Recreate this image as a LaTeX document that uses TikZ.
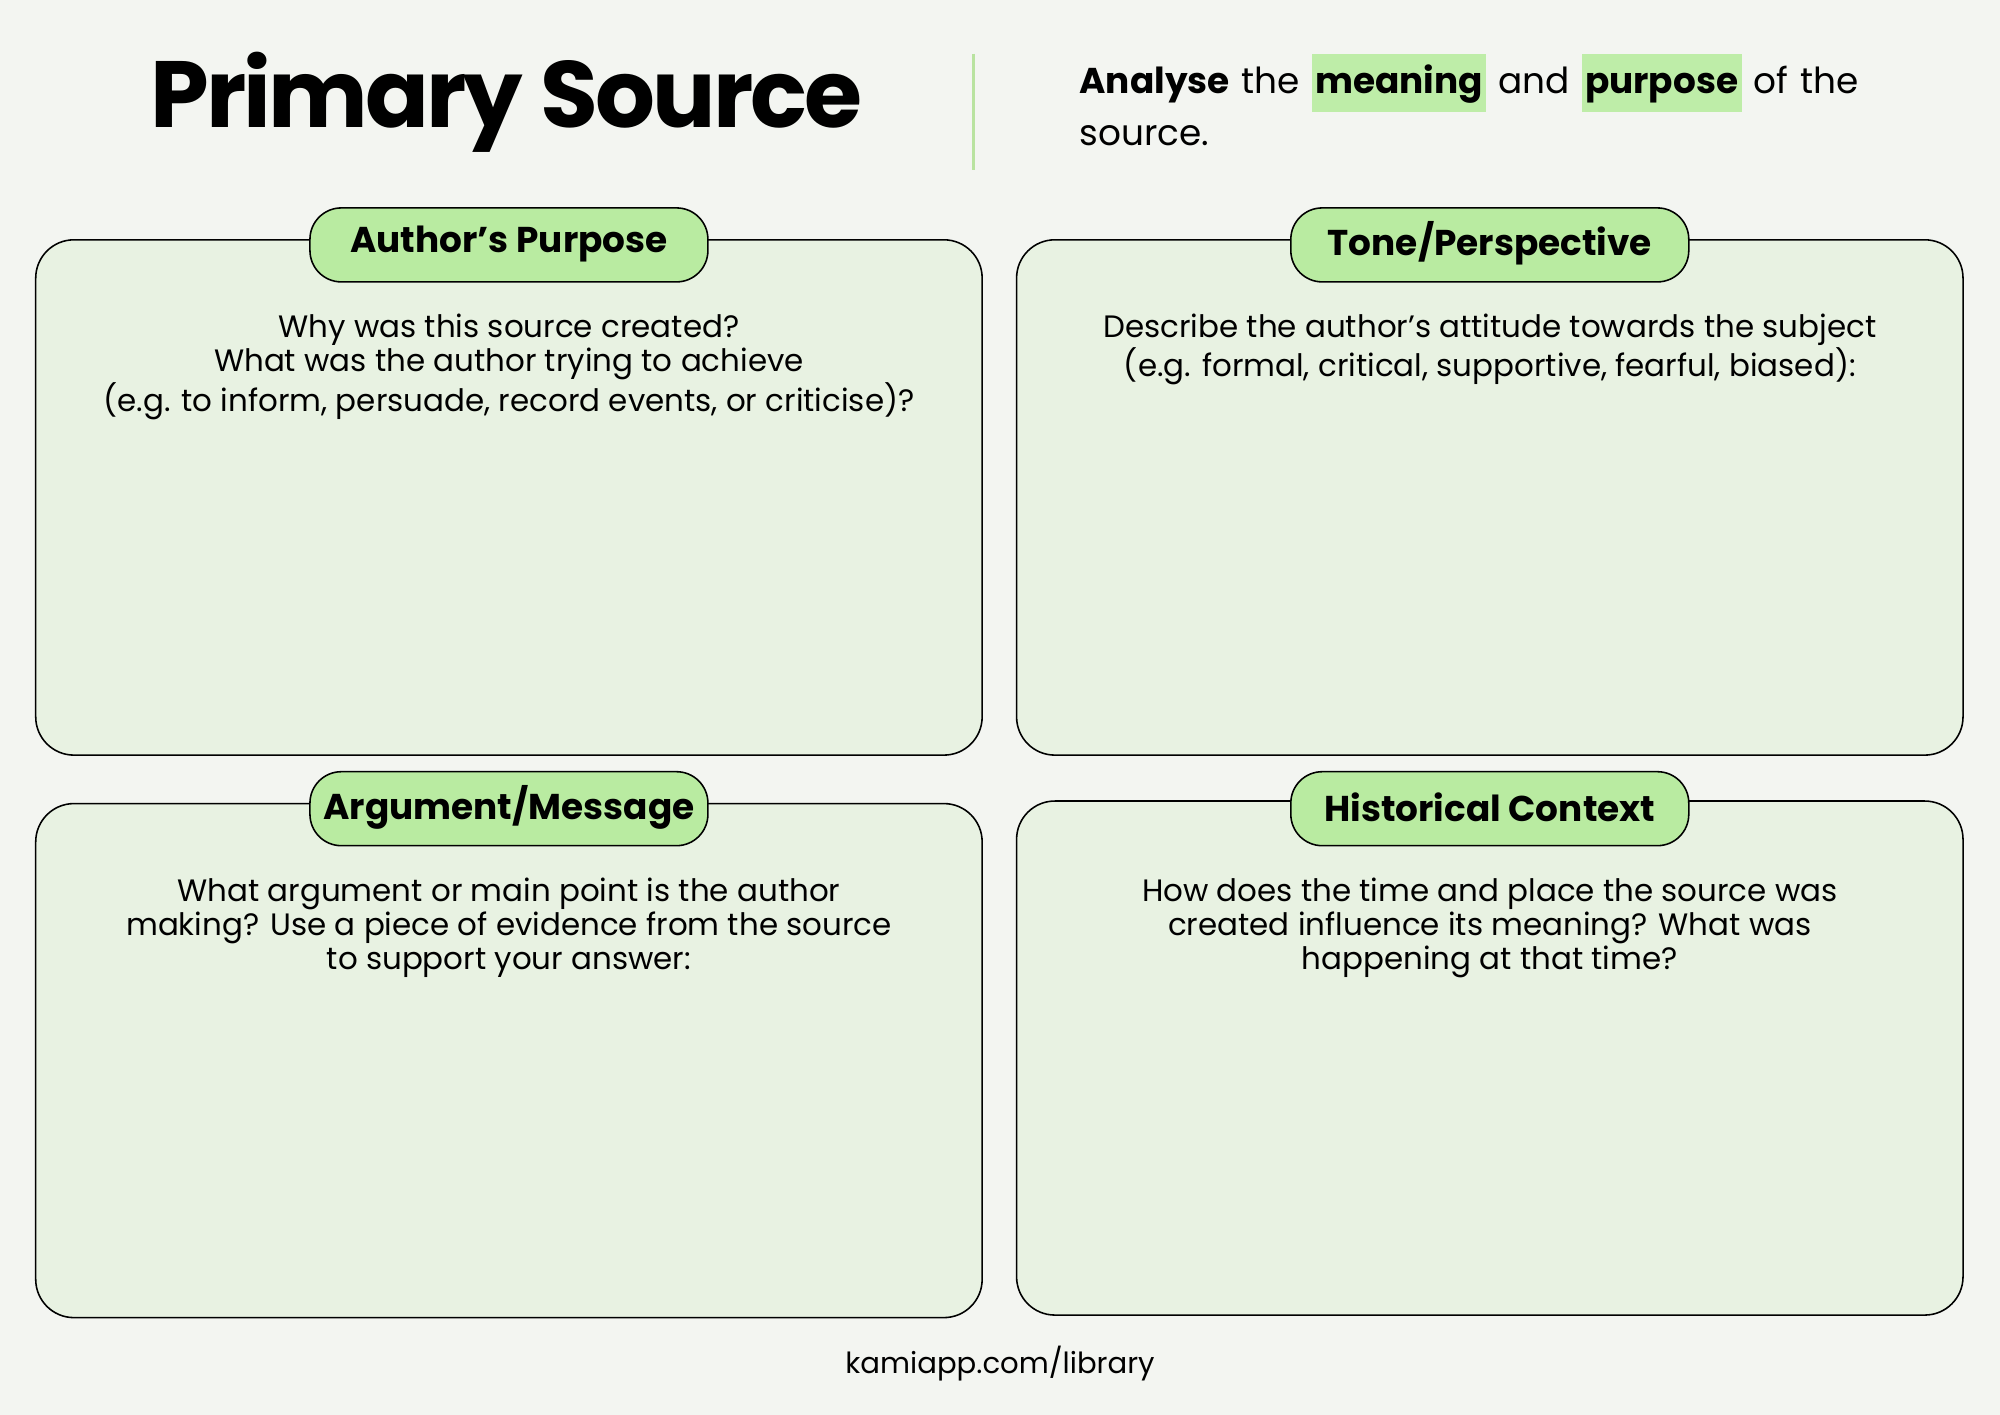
\documentclass[tikz,border=0pt]{standalone}
\usepackage{fontspec}
\setmainfont{Poppins}
\definecolor{bg}{HTML}{F3F5F1}
\definecolor{boxfill}{HTML}{E8F2E2}
\definecolor{tabfill}{HTML}{B9EBA1}
\definecolor{hl}{HTML}{BEEDA8}
\definecolor{vline}{HTML}{B9E3A0}
\newcommand{\hlw}[1]{{\setlength{\fboxsep}{1.5pt}\colorbox{hl}{\strut #1}}}
\begin{document}
\begin{tikzpicture}[x=0.02cm,y=-0.02cm,
  panel/.style={draw=black,line width=0.7pt,fill=boxfill,rounded corners=30*0.02cm},
  tabbox/.style={draw=black,line width=0.7pt,fill=tabfill,rounded corners=14pt},
  tablabel/.style={font=\fontsize{16}{18}\selectfont\bfseries},
  body/.style={font=\fontsize{13.8}{15.2}\selectfont,align=center,anchor=north}]
\useasboundingbox[fill=bg] (0,0) rectangle (1568,1109);
\node[font=\fontsize{42}{44}\selectfont\bfseries] (title) at (397,80) {\addfontfeatures{LetterSpace=-3}Primary Source};
\draw[vline,line width=1.5pt] (763,42) -- (763,133);
\node[anchor=north west,text width=13.4cm,align=left,font=\fontsize{16}{23}\selectfont,inner sep=0] (hdr) at (846,42)
 {\textbf{Analyse} the \hlw{\textbf{meaning}} and \hlw{\textbf{purpose}} of the source.};
% panels
\draw[panel] (28,188) rectangle (770,592);
\draw[panel] (797,188) rectangle (1539,592);
\draw[panel] (28,630) rectangle (770,1033);
\draw[panel] (797,628) rectangle (1539,1031);
\draw[tabbox] (243,163) rectangle (555,221);
\draw[tabbox] (1012,163) rectangle (1324,221);
\draw[tabbox] (243,605) rectangle (555,663);
\draw[tabbox] (1012,605) rectangle (1324,663);
\node[tablabel] (t1) at (399,191) {Author\char"0027 s Purpose};
\node[tablabel] (t2) at (1168,191) {Tone/Perspective};
\node[tablabel] (t3) at (399,633) {Argument/Message};
\node[tablabel] (t4) at (1168,633) {Historical Context};
\node[body] (b1) at (399,240) {Why was this source created?\\What was the author trying to achieve\\(e.g. to inform, persuade, record events, or criticise)?};
\node[body] (b2) at (1168,240) {Describe the author’s attitude towards the subject\\(e.g. formal, critical, supportive, fearful, biased):};
\node[body] (b3) at (399,682) {What argument or main point is the author\\making? Use a piece of evidence from the source\\to support your answer:};
\node[body] (b4) at (1168,682) {How does the time and place the source was\\created influence its meaning? What was\\happening at that time?};
\node[font=\fontsize{13}{15}\selectfont] (foot) at (784,1069) {kamiapp.com/library};
\end{tikzpicture}
\end{document}
